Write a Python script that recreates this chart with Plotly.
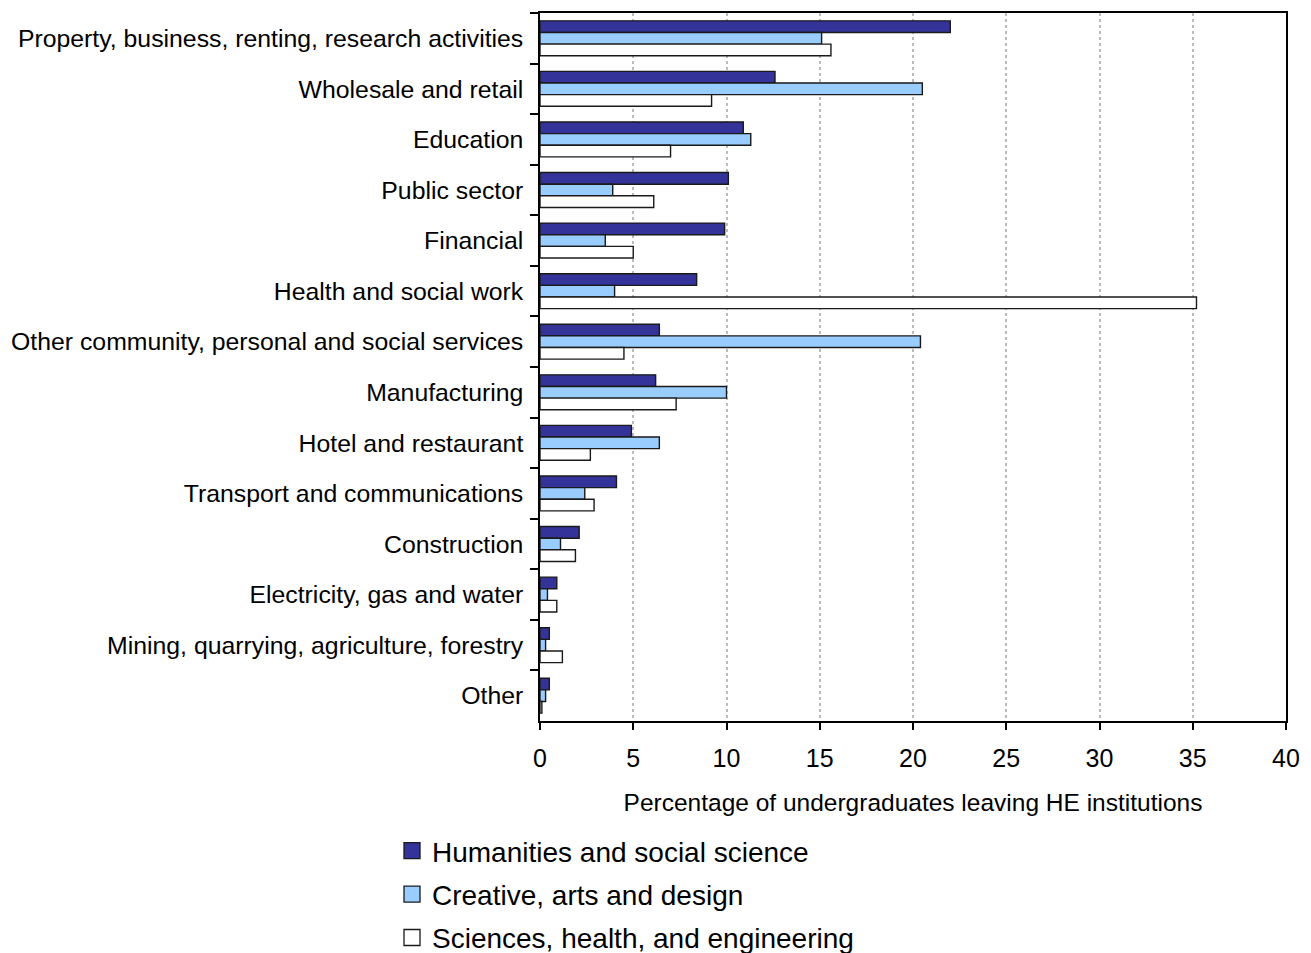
import plotly.graph_objects as go

categories = [
    "Property, business, renting, research activities",
    "Wholesale and retail",
    "Education",
    "Public sector",
    "Financial",
    "Health and social work",
    "Other community, personal and social services",
    "Manufacturing",
    "Hotel and restaurant",
    "Transport and communications",
    "Construction",
    "Electricity, gas and water",
    "Mining, quarrying, agriculture, forestry",
    "Other",
]
humanities = [22.0, 12.6, 10.9, 10.1, 9.9, 8.4, 6.4, 6.2, 4.9, 4.1, 2.1, 0.9, 0.5, 0.5]
creative = [15.1, 20.5, 11.3, 3.9, 3.5, 4.0, 20.4, 10.0, 6.4, 2.4, 1.1, 0.4, 0.3, 0.3]
sciences = [15.6, 9.2, 7.0, 6.1, 5.0, 35.2, 4.5, 7.3, 2.7, 2.9, 1.9, 0.9, 1.2, 0.1]

series_names = ["Humanities and social science", "Creative, arts and design",
                "Sciences, health, and engineering"]
series_values = [humanities, creative, sciences]
series_colors = ["#333399", "#99CCFF", "#FFFFFF"]

x_ticks = [0, 5, 10, 15, 20, 25, 30, 35, 40]
x_title = "Percentage of undergraduates leaving HE institutions"

FONT = "Liberation Sans, Arial, sans-serif"
W, H = 1303, 945

fig = go.Figure()
for name, vals, col in zip(series_names, series_values, series_colors):
    fig.add_trace(go.Bar(
        y=categories, x=vals, orientation="h", name=name,
        marker=dict(color=col, line=dict(color="#1a1a1a", width=1.4)),
        showlegend=False,
    ))
# legend proxies (square symbols) on a hidden auxiliary axis pair, outside its range
for i, (name, col) in enumerate(zip(series_names, series_colors)):
    fig.add_trace(go.Scatter(
        x=[-10], y=[-10], mode="markers", name=name,
        xaxis="x2", yaxis="y2", legendgroup=f"g{i}",
        marker=dict(symbol="square", size=16, color=col,
                    line=dict(color="#1a1a1a", width=1.3)),
        showlegend=True, hoverinfo="skip",
    ))

fig.update_layout(
    width=W, height=H,
    margin=dict(l=532, r=25, t=5, b=232, autoexpand=False),
    paper_bgcolor="white", plot_bgcolor="white",
    barmode="group", bargap=0.31, bargroupgap=0,
    font=dict(family=FONT, color="black"),
    legend=dict(
        xref="container", yref="container",
        x=384 / W, y=1 - 818 / H, xanchor="left", yanchor="top",
        font=dict(size=28, family=FONT, color="black"),
        itemsizing="trace", tracegroupgap=4,
        bgcolor="rgba(0,0,0,0)",
    ),
    xaxis2=dict(overlaying="x", range=[0, 1], visible=False, fixedrange=True),
    yaxis2=dict(overlaying="y", range=[0, 1], visible=False, fixedrange=True),
)
fig.update_layout(xaxis=dict(
    range=[0, 40], tickvals=x_ticks, ticktext=[str(v) for v in x_ticks],
    showgrid=True, gridcolor="#BBBBBB", griddash="dot", gridwidth=1.5,
    showline=True, linecolor="black", linewidth=1.5, mirror=True,
    ticks="outside", ticklen=7, tickcolor="black", tickwidth=1.5,
    tickfont=dict(size=25, family=FONT, color="black"),
    ticklabelstandoff=7,
    zeroline=False, automargin=False,
    title=dict(text=x_title, font=dict(size=24.5, family=FONT, color="black"), standoff=23),
))
fig.update_layout(yaxis=dict(
    type="category", autorange="reversed",
    showline=True, linecolor="black", linewidth=1.5, mirror=True,
    ticks="outside", ticklen=8, tickcolor="black", tickwidth=1.5,
    tickson="boundaries", showgrid=False, automargin=False,
    tickfont=dict(size=24.8, family=FONT, color="black"),
    ticklabelstandoff=10,
))

fig.write_html("out.html")
